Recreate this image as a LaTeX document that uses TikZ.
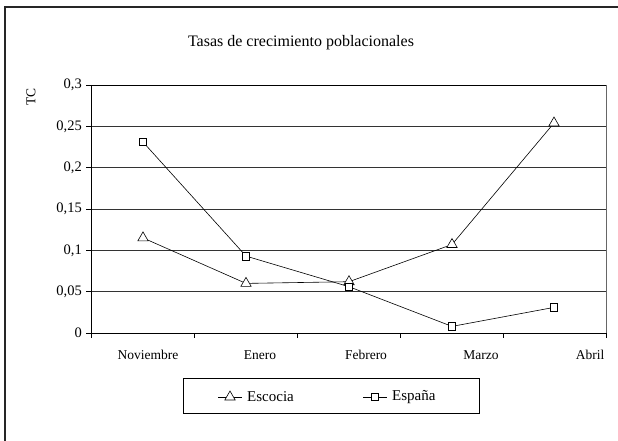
\documentclass[tikz,border=0pt]{standalone}
\usepackage{fontspec}
\setmainfont{Liberation Serif}
\usetikzlibrary{shapes.geometric, positioning}

\begin{document}
\begin{tikzpicture}[x=1pt, y=-1pt,
        grid/.style = {
            draw,
            line width=0.8pt,
            black!80
        },
        ylab/.style = {
            anchor=east,
            inner sep=0pt,
            font=\fontsize{14.5}{14.5}\selectfont
        },
        xlab/.style = {
            inner sep=0pt,
            font=\fontsize{13.5}{13.5}\selectfont
        },
        tri/.style = {
            regular polygon,
            regular polygon sides=3,
            draw,
            fill=white,
            inner sep=0pt,
            minimum size=12pt,
            line width=0.6pt
        },
        sq/.style = {
            rectangle,
            draw,
            fill=white,
            inner sep=0pt,
            minimum size=7.5pt,
            line width=0.6pt
        },
        serie/.style = {line width=0.6pt}
    ]
    \useasboundingbox (0,0) rectangle (618,441);

    % chart frame
    \draw[line width=1.5pt, black!85] (5,441) -- (5,7) -- (618,7);

    \node (title) [font=\fontsize{16}{16}\selectfont] at (301,43)
        {Tasas de crecimiento poblacionales};
    \node (ytitle) [rotate=90, font=\fontsize{13.5}{13.5}\selectfont] at (31,97) {TC};

    % plot area
    \coordinate (origin) at (91,333);
    \coordinate (topleft) at (91,85);
    \coordinate (topright) at (606,85);
    \coordinate (botright) at (606,333);

    \draw[grid] (91,291.67) -- (606,291.67);
    \draw[grid] (91,250.33) -- (606,250.33);
    \draw[grid] (91,209) -- (606,209);
    \draw[grid] (91,167.67) -- (606,167.67);
    \draw[grid] (91,126.33) -- (606,126.33);
    \draw[grid, black] (topleft) -- (topright);
    \draw[grid, black!60] (topright) -- (botright);
    \draw[line width=0.8pt] (topleft) -- (origin) -- (botright);

    % ticks
    \draw[line width=0.8pt] (86,333) -- (91,333);
    \draw[line width=0.8pt] (86,291.67) -- (91,291.67);
    \draw[line width=0.8pt] (86,250.33) -- (91,250.33);
    \draw[line width=0.8pt] (86,209) -- (91,209);
    \draw[line width=0.8pt] (86,167.67) -- (91,167.67);
    \draw[line width=0.8pt] (86,126.33) -- (91,126.33);
    \draw[line width=0.8pt] (86,85) -- (91,85);
    \draw[line width=0.8pt] (91,333) -- (91,338);
    \draw[line width=0.8pt] (194,333) -- (194,338);
    \draw[line width=0.8pt] (297,333) -- (297,338);
    \draw[line width=0.8pt] (400,333) -- (400,338);
    \draw[line width=0.8pt] (503,333) -- (503,338);
    \draw[line width=0.8pt] (606,333) -- (606,338);

    \node (y0) [ylab] at (82,333) {0};
    \node (y1) [ylab] at (82,291.67) {0,05};
    \node (y2) [ylab] at (82,250.33) {0,1};
    \node (y3) [ylab] at (82,209) {0,15};
    \node (y4) [ylab] at (82,167.67) {0,2};
    \node (y5) [ylab] at (82,126.33) {0,25};
    \node (y6) [ylab] at (82,85) {0,3};

    \node (nov) [xlab] at (148,355) {Noviembre};
    \node (ene) [xlab] at (260,355) {Enero};
    \node (feb) [xlab] at (366,355) {Febrero};
    \node (mar) [xlab] at (481,355) {Marzo};
    \node (abr) [xlab] at (590,355) {Abril};

    % Escocia
    \node (esc1) [tri] at (143,237.9) {};
    \node (esc2) [tri] at (246,283.4) {};
    \node (esc3) [tri] at (349,281.7) {};
    \node (esc4) [tri] at (452,244.5) {};
    \node (esc5) [tri] at (554,123) {};
    % España
    \node (esp1) [sq] at (143,142) {};
    \node (esp2) [sq] at (246,256.1) {};
    \node (esp3) [sq] at (349,286.7) {};
    \node (esp4) [sq] at (452,326.4) {};
    \node (esp5) [sq] at (554,307.4) {};

    \draw[serie] (esc1) -- (esc2) -- (esc3) -- (esc4) -- (esc5);
    \draw[serie] (esp1) -- (esp2) -- (esp3) -- (esp4) -- (esp5);

    % legend
    \node (legend) [draw, line width=0.8pt, minimum width=296pt, minimum height=35pt] at (331,395.5) {};
    \coordinate (ltri-w) at (218,397);
    \coordinate (ltri-e) at (242,397);
    \draw[serie] (ltri-w) -- (ltri-e);
    \node (ltri) [tri] at (230,397) {};
    \node (lesc) [anchor=west, inner sep=0pt, font=\fontsize{15}{15}\selectfont, right=5pt of ltri-e] {Escocia};
    \coordinate (lsq-w) at (363,397);
    \coordinate (lsq-e) at (387,397);
    \draw[serie] (lsq-w) -- (lsq-e);
    \node (lsq) [sq] at (375,397) {};
    \node (lesp) [anchor=west, inner sep=0pt, font=\fontsize{15}{15}\selectfont, right=5pt of lsq-e] {España};
\end{tikzpicture}
\end{document}
